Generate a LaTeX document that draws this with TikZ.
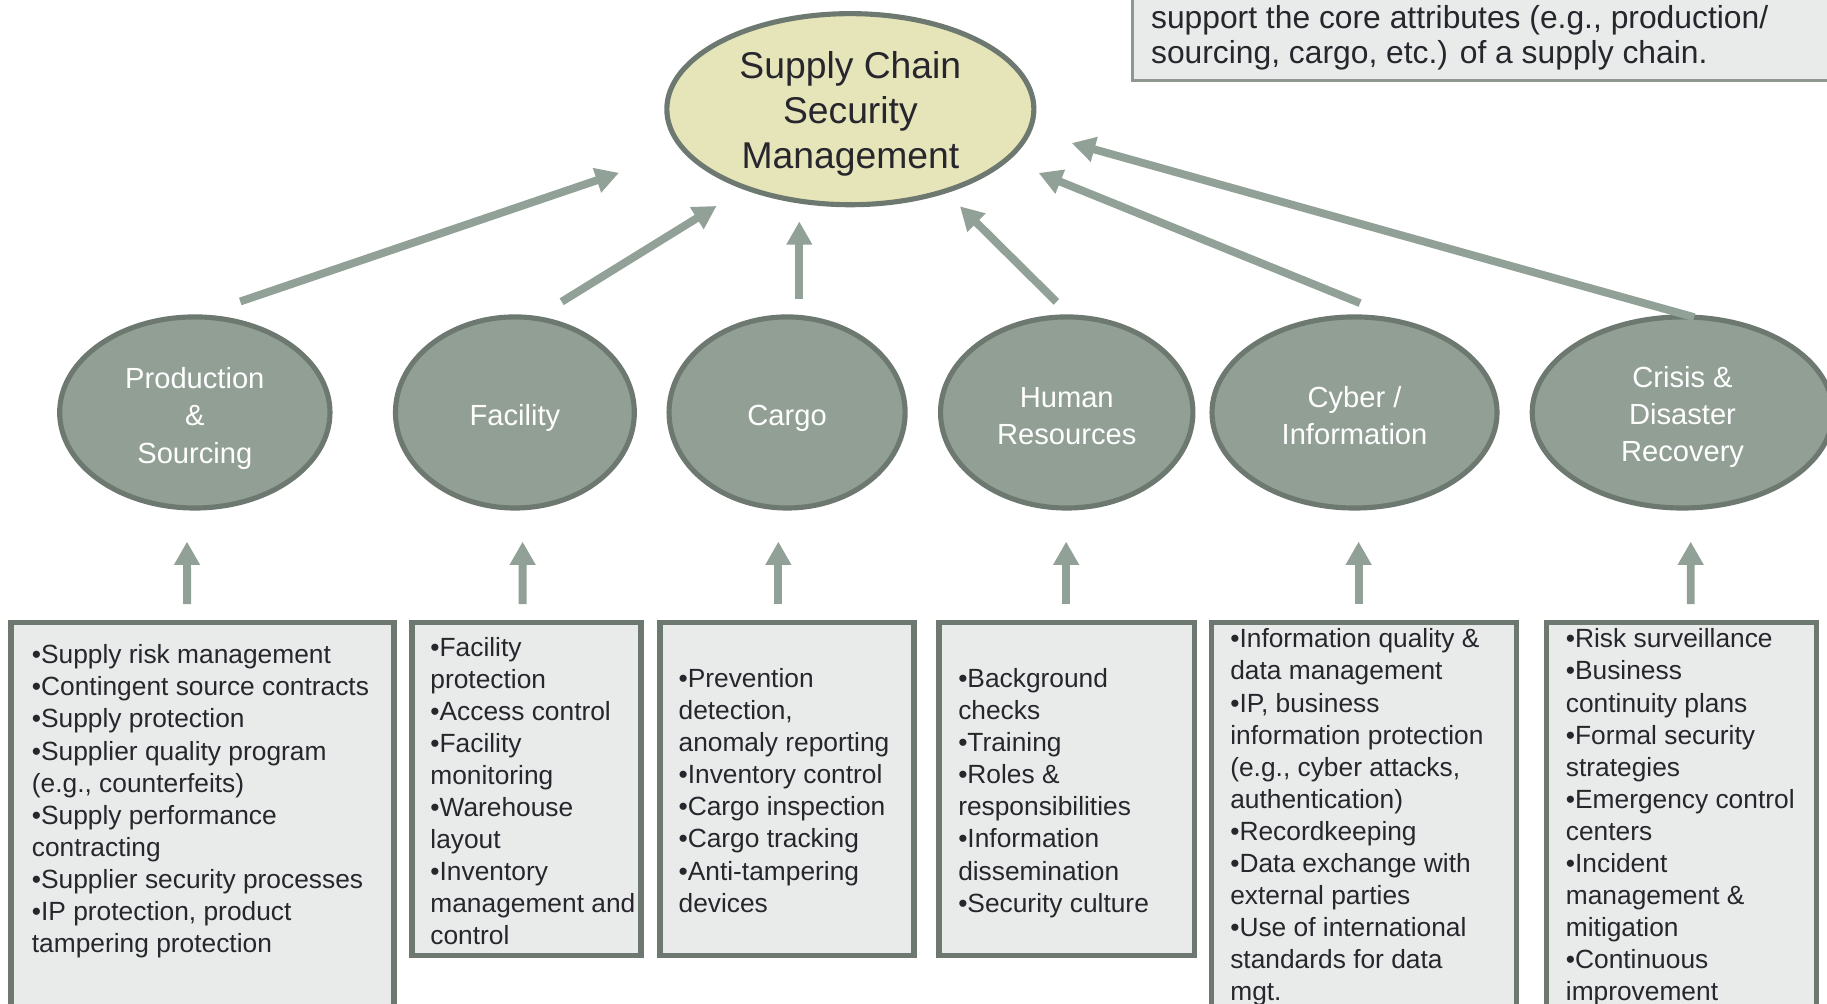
\documentclass[tikz,border=0pt]{standalone}
\usepackage{fontspec}
\setmainfont{Liberation Sans}
\usetikzlibrary{shapes.geometric,arrows.meta}
\definecolor{attrfill}{HTML}{919F95}
\definecolor{attrline}{HTML}{6D7970}
\definecolor{arrowgreen}{HTML}{92A197}
\definecolor{corefill}{HTML}{E6E4B9}
\definecolor{boxfill}{HTML}{E9EBEA}
\definecolor{noteline}{HTML}{8E9891}
\definecolor{inkcolor}{HTML}{26262C}
\newcommand{\lift}[1]{\rule{0pt}{#1}}

\tikzset{
  attr/.style={ellipse, draw=attrline, fill=attrfill, line width=2.2pt,
    inner sep=0pt, outer sep=0pt, minimum height=82pt, align=center,
    text=white, font=\fontsize{12.5}{16}\selectfont},
  core/.style={attr, fill=corefill, text=inkcolor,
    font=\fontsize{16}{19.3}\selectfont},
  listbox/.style={rectangle, draw=attrline, fill=boxfill, line width=2.3pt,
    inner sep=0pt, outer sep=0pt, anchor=north west},
  listtext/.style={inner sep=0pt, anchor=north west, align=left, text=inkcolor,
    font=\fontsize{11.3}{13.75}\selectfont, execute at begin node=\strut},
  uparrow/.style={draw=arrowgreen, line width=3.4pt,
    -{Triangle[width=10.5pt,length=10pt]}},
}

\begin{document}
\begin{tikzpicture}[x=0.5pt,y=-0.5pt]
  \useasboundingbox (0,0) rectangle (1568,861);

  % note, cut off by the top edge
  \node[rectangle, draw=noteline, fill=boxfill, line width=1pt, inner sep=0pt,
        minimum width=320pt, minimum height=70pt, anchor=south west] (note) at (971,70) {};
  \node[listtext, font=\fontsize{13.65}{15.3}\selectfont] (notetext) at (987.5,4)
    {support the core attributes (e.g., production/\\sourcing, cargo, etc.) of a supply chain.};

  % goal
  \node[core, minimum width=157.5pt] (scsm) at (729.8,93.7) {\lift{15.5pt}Supply Chain\\Security\\Management};

  % attributes
  \node[attr, minimum width=116pt]   (ps)  at (167.2,354)  {\lift{14pt}Production\\\&\\Sourcing};
  \node[attr, minimum width=102.5pt] (fac) at (441.9,354)  {\lift{14pt}Facility};
  \node[attr, minimum width=101.3pt] (cg)  at (675.5,354)  {\lift{14pt}Cargo};
  \node[attr, minimum width=108.3pt] (hr)  at (915.5,354)  {\lift{12pt}Human\\Resources};
  \node[attr, minimum width=122.3pt] (cy)  at (1162.5,354) {\lift{12pt}Cyber /\\Information};
  \node[attr, minimum width=129pt]   (cr)  at (1444,354)   {\lift{13pt}Crisis \&\\Disaster\\Recovery};

  % measures
  \node[listbox, minimum width=164.25pt, minimum height=190pt] (b1) at (9.5,534) {};
  \node[listbox, minimum width=98.25pt,  minimum height=143pt] (b2) at (353.5,534) {};
  \node[listbox, minimum width=109pt,    minimum height=143pt] (b3) at (566.5,534) {};
  \node[listbox, minimum width=109.5pt,  minimum height=143pt] (b4) at (806,534) {};
  \node[listbox, minimum width=131pt,    minimum height=190pt] (b5) at (1039.5,534) {};
  \node[listbox, minimum width=115.75pt, minimum height=190pt] (b6) at (1327.5,534) {};

  \node[listtext] (t1) at (27,553) {•Supply risk management\\•Contingent source contracts\\•Supply protection\\•Supplier quality program\\(e.g., counterfeits)\\•Supply performance\\contracting\\•Supplier security processes\\•IP protection, product\\tampering protection};
  \node[listtext] (t2) at (369,546.3) {•Facility\\protection\\•Access control\\•Facility\\monitoring\\•Warehouse\\layout\\•Inventory\\management and\\control};
  \node[listtext] (t3) at (582,573.5) {•Prevention\\detection,\\anomaly reporting\\•Inventory control\\•Cargo inspection\\•Cargo tracking\\•Anti-tampering\\devices};
  \node[listtext] (t4) at (822,573.5) {•Background\\checks\\•Training\\•Roles \&\\responsibilities\\•Information\\dissemination\\•Security culture};
  \node[listtext] (t5) at (1055.5,539.3) {•Information quality \&\\data management\\•IP, business\\information protection\\(e.g., cyber attacks,\\authentication)\\•Recordkeeping\\•Data exchange with\\external parties\\•Use of international\\standards for data\\mgt.};
  \node[listtext] (t6) at (1343.5,539.3) {•Risk surveillance\\•Business\\continuity plans\\•Formal security\\strategies\\•Emergency control\\centers\\•Incident\\management \&\\mitigation\\•Continuous\\improvement};

  % attributes to goal
  \foreach \el/\fa/\fs/\ta/\ts in {ps/90.3/20.6/194.9/29.85, fac/78.8/13.5/217.5/14.85,
      hr/87.5/9.25/319.1/9.25, cy/47.9/32.4/342.2/15.1, cr/83/0/353.6/19.1}
    \draw[uparrow, shorten <=\fs pt, shorten >=\ts pt] (\el.\fa) -- (scsm.\ta);
  \draw[uparrow, shorten <=7.5pt, shorten >=7.15pt] ([xshift=5.25pt]cg.north) -- ([xshift=-21.9pt]scsm.south);

  % measures to attributes
  \foreach \bx/\db/\el/\de in {b1/-6.6/ps/-3.35, b2/-1.6/fac/3.3, b3/-3.75/cg/-3.75,
      b4/-0.25/hr/-0.25, b5/-2.25/cy/1.75, b6/3.9/cr/3.5}
    \draw[uparrow] ([xshift=\db pt, yshift=7.75pt]\bx.north) -- ([xshift=\de pt, yshift=-14.4pt]\el.south);
\end{tikzpicture}
\end{document}
